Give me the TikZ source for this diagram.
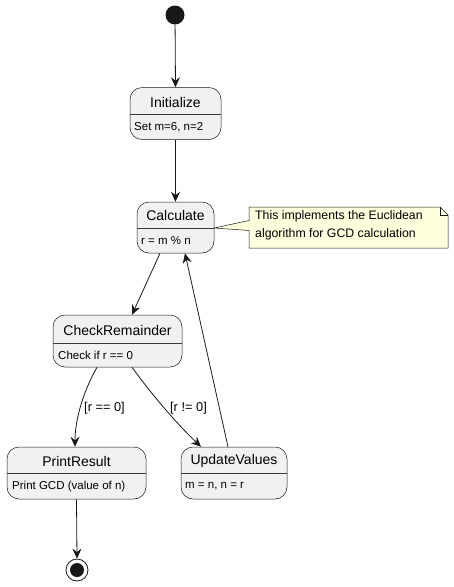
\documentclass[tikz,border=0pt]{standalone}
\usepackage{fontspec}
\setmainfont{Liberation Sans}
\usetikzlibrary{arrows.meta}
\definecolor{boxfill}{HTML}{F1F1F1}
\definecolor{boxline}{HTML}{181818}
\definecolor{notefill}{HTML}{FEFFDD}
\tikzset{
  statebox/.style={draw=boxline, fill=boxfill, rounded corners=12pt, line width=0.5pt, inner sep=0pt},
  ttl/.style={font=\fontsize{14}{16}\selectfont, text=black, inner sep=0pt},
  bdy/.style={font=\fontsize{11.5}{13}\selectfont, text=black, inner sep=0pt, anchor=west},
  lbl/.style={font=\fontsize{12.8}{14}\selectfont, text=black, inner sep=0pt},
  conn/.style={draw=boxline, line width=0.8pt, -{Stealth[length=10pt,width=9pt,inset=3.5pt]}},
  divider/.style={draw=boxline!85, line width=0.5pt}
}
\begin{document}
\begin{tikzpicture}[x=1pt,y=-1pt]
\useasboundingbox[fill=white] (0,0) rectangle (453,587);
% start
\node[circle, fill=boxline, minimum size=19pt, inner sep=0pt] (start) at (175,15) {};
% Initialize
\node[statebox, minimum width=91pt, minimum height=52pt] (init) at (175.5,113.5) {};
\draw[divider] (init.west |- 0,114) -- (init.east |- 0,114);
\node[ttl] (initT) at (175.5,102) {Initialize};
\node[bdy] (initB) at (134,127.5) {Set m=6, n=2};
% Calculate
\node[statebox, minimum width=77pt, minimum height=51pt] (calc) at (175.5,227.5) {};
\draw[divider] (calc.west |- 0,228) -- (calc.east |- 0,228);
\node[ttl] (calcT) at (175.5,215.5) {Calculate};
\node[bdy] (calcB) at (141,241) {r = m \% n};
% Note
\filldraw[draw=boxline, fill=notefill, line width=0.5pt]
  (calc.east |- 0,228) -- (249,220.5) -- (249,207) -- (440,207) -- (448,215) -- (448,248) -- (249,248) -- (249,230.5) -- cycle;
\draw[draw=boxline, line width=0.5pt] (440,207) -- (440,215) -- (448,215);
\node[bdy, font=\fontsize{12.3}{18}\selectfont, align=left, anchor=north west] (note) at (255,210.5)
  {This implements the Euclidean\\algorithm for GCD calculation};
% CheckRemainder
\node[statebox, minimum width=129pt, minimum height=52pt] (cr) at (117.5,341) {};
\draw[divider] (cr.west |- 0,343) -- (cr.east |- 0,343);
\node[ttl] (crT) at (117.5,330) {CheckRemainder};
\node[bdy] (crB) at (58,355.5) {Check if r == 0};
% PrintResult
\node[statebox, minimum width=139pt, minimum height=52pt] (pr) at (76.5,473) {};
\draw[divider] (pr.west |- 0,473) -- (pr.east |- 0,473);
\node[ttl] (prT) at (76.5,461) {PrintResult};
\node[bdy] (prB) at (12,486.5) {Print GCD (value of n)};
% UpdateValues
\node[statebox, minimum width=106pt, minimum height=52pt] (uv) at (234,473) {};
\draw[divider] (uv.west |- 0,473) -- (uv.east |- 0,473);
\node[ttl] (uvT) at (234,461) {UpdateValues};
\node[bdy] (uvB) at (185,486.5) {m = n, n = r};
% end
\node[circle, draw=boxline, line width=0.8pt, fill=white, minimum size=22pt, inner sep=0pt] (stop) at (77,570) {};
\node[circle, fill=boxline, minimum size=14pt, inner sep=0pt] (stopin) at (77,570) {};
% connectors
\draw[conn] (start) -- (init.north);
\draw[conn] (init.south) -- (calc.north);
\draw[conn] ([xshift=-15.5pt]calc.south) -- ([xshift=14.5pt]cr.north);
\draw[conn] ([xshift=-6pt]uv.north) -- ([xshift=9.5pt]calc.south);
\draw[conn] ([xshift=-20.5pt]cr.south) .. controls (83,392) and (75,420) .. ([xshift=-1.5pt]pr.north);
\draw[conn] ([xshift=14.5pt]cr.south) .. controls (152,395) and (178,425) .. ([xshift=-33pt]uv.north);
\draw[conn] (pr.south) -- (stop.north);
% labels
\node[lbl] (l1) at (104.5,408) {[r == 0]};
\node[lbl] (l2) at (188.5,408) {[r != 0]};
\end{tikzpicture}
\end{document}
